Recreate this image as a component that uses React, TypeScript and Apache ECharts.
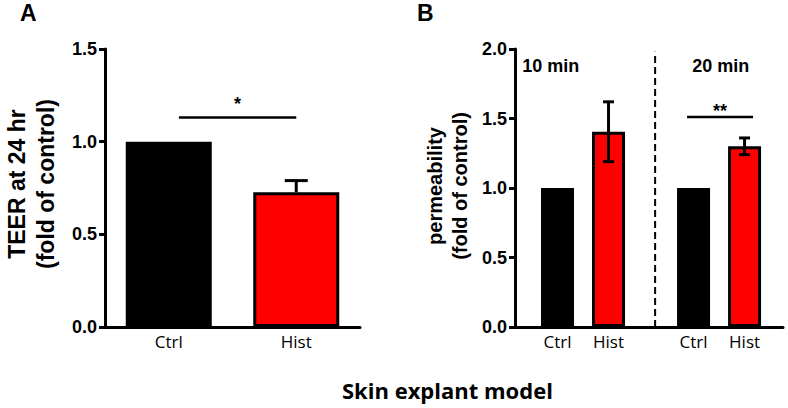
import React, { useEffect, useRef } from "react";
import * as echarts from "echarts";

// ---------- Panel A data ----------
const aCategories = ["Ctrl", "Hist"];
const aPositions = [0, 1];
const aValues = [1.0, 0.727];
const aErrHigh = [null, 0.79];
const aYTicks = [0, 0.5, 1.0, 1.5];
const aSig = [{ from: 0.08, to: 1.0, y: 1.13, label: "*", gap: 5 }];

// ---------- Panel B data ----------
const bCategories = ["Ctrl", "Hist", "Ctrl", "Hist"];
const bPositions = [2.5, 5.5, 10.5, 13.5];
const bValues = [1.0, 1.405, 1.0, 1.3];
const bErrLow = [null, 1.19, null, 1.24];
const bErrHigh = [null, 1.62, null, 1.36];
const bYTicks = [0, 0.5, 1.0, 1.5, 2.0];
const bGroups = ["10 min", "20 min"];
const bGroupPositions = [2.1, 12.1];
const bGroupY = 1.88;
const bDivider = [8.24, 0, 1.98];
const bSig = [{ from: 10.12, to: 14.0, y: 1.51, label: "**", gap: -3 }];

const colors = ["#000000", "#ff0000"];

const ARIAL = "'Liberation Sans', Arial, sans-serif";
const CALIBRI = "'Open Sans', 'Noto Sans', sans-serif";

function errorSeries(
  xAxisIndex: number,
  positions: number[],
  values: number[],
  low: (number | null)[],
  high: (number | null)[],
  capW: number,
  lowerCap: boolean
) {
  const data: number[][] = [];
  positions.forEach((p, i) => {
    if (high[i] != null) {
      const lo = low[i] != null ? (low[i] as number) : values[i];
      data.push([p, lo, high[i] as number]);
    }
  });
  return {
    type: "custom",
    xAxisIndex,
    yAxisIndex: xAxisIndex,
    z: 5,
    silent: true,
    data,
    renderItem: (params: any, api: any) => {
      const x = api.value(0);
      const lo = api.coord([x, api.value(1)]);
      const hi = api.coord([x, api.value(2)]);
      const hw = capW / 2;
      const st = { stroke: "#000", lineWidth: 3 };
      const children: any[] = [
        { type: "line", shape: { x1: lo[0], y1: lo[1], x2: hi[0], y2: hi[1] }, style: st },
        { type: "line", shape: { x1: hi[0] - hw, y1: hi[1], x2: hi[0] + hw, y2: hi[1] }, style: st },
      ];
      if (lowerCap) {
        children.push({
          type: "line",
          shape: { x1: lo[0] - hw, y1: lo[1], x2: lo[0] + hw, y2: lo[1] },
          style: st,
        });
      }
      return { type: "group", children };
    },
  };
}

function sigSeries(axisIndex: number, sig: typeof aSig) {
  return {
    type: "custom",
    xAxisIndex: axisIndex,
    yAxisIndex: axisIndex,
    z: 5,
    silent: true,
    data: sig.map((s) => [s.from, s.to, s.y]),
    renderItem: (params: any, api: any) => {
      const s = sig[params.dataIndex];
      const p1 = api.coord([api.value(0), api.value(2)]);
      const p2 = api.coord([api.value(1), api.value(2)]);
      return {
        type: "group",
        children: [
          {
            type: "line",
            shape: { x1: p1[0], y1: p1[1], x2: p2[0], y2: p2[1] },
            style: { stroke: "#000", lineWidth: 2.5 },
          },
          {
            type: "text",
            style: {
              text: s.label,
              x: (p1[0] + p2[0]) / 2,
              y: p1[1] - s.gap,
              fill: "#000",
              font: `bold 18px ${ARIAL}`,
              align: "center",
              verticalAlign: "bottom",
              textAlign: "center",
              textVerticalAlign: "bottom",
            },
          },
        ],
      };
    },
  };
}

export default function App() {
  const ref = useRef<HTMLDivElement>(null);
  useEffect(() => {
    document.body.style.margin = "0";
    const chart = echarts.init(ref.current!, null, { renderer: "svg" });

    const yAxisBase = (
      max: number,
      name: string,
      gap: number,
      nameSize: number,
      lh: number,
      idx: number,
      namePad: number[]
    ) => ({
      type: "value",
      gridIndex: idx,
      min: 0,
      max,
      interval: 0.5,
      name,
      nameLocation: "middle",
      nameRotate: 90,
      nameGap: gap,
      nameTextStyle: {
        fontFamily: ARIAL,
        fontWeight: "bold",
        fontSize: nameSize,
        lineHeight: lh,
        color: "#000",
        padding: namePad,
      },
      axisLine: { show: true, onZero: false, lineStyle: { color: "#000", width: 3 } },
      axisTick: { show: true, length: 6, lineStyle: { color: "#000", width: 3 } },
      splitLine: { show: false },
      axisLabel: {
        margin: 8,
        fontFamily: ARIAL,
        fontWeight: "bold",
        fontSize: 18,
        color: "#000",
        formatter: (v: number) => v.toFixed(1),
      },
    });

    const xAxisBase = (idx: number, min: number, max: number, positions: number[], names: string[]) => ({
      type: "value",
      gridIndex: idx,
      min,
      max,
      axisLine: { show: true, onZero: false, lineStyle: { color: "#000", width: 3 } },
      axisTick: { show: false },
      splitLine: { show: false },
      axisLabel: {
        customValues: positions,
        margin: 6,
        fontFamily: CALIBRI,
        fontSize: 17,
        color: "#000",
        formatter: (v: number) => {
          const i = positions.findIndex((p) => Math.abs(p - v) < 1e-6);
          return i >= 0 ? names[i] : "";
        },
      },
    });

    chart.setOption({
      animation: false,
      backgroundColor: "#fff",
      grid: [
        { left: 105, top: 49, width: 255, height: 278 },
        { left: 515, top: 49, width: 268, height: 278 },
      ],
      xAxis: [
        xAxisBase(0, -0.5, 1.5, aPositions, aCategories),
        xAxisBase(1, 0, 15.76, bPositions, bCategories),
      ],
      yAxis: [
        yAxisBase(aYTicks[aYTicks.length - 1], "TEER at 24 hr\n(fold of control)", 45, 23, 29, 0, [0, 0, 0, 8]),
        yAxisBase(bYTicks[bYTicks.length - 1], "permeability\n(fold of control)", 43, 20, 25, 1, [0, 0, 0, 4]),
      ],
      graphic: [
        {
          type: "text",
          left: 20,
          top: 1,
          style: { text: "A", font: `bold 23px ${ARIAL}`, fill: "#000" },
        },
        {
          type: "text",
          left: 417,
          top: 1,
          style: { text: "B", font: `bold 23px ${ARIAL}`, fill: "#000" },
        },
        {
          type: "text",
          left: 342,
          top: 379,
          style: { text: "Skin explant model", font: `bold 22px ${CALIBRI}`, fill: "#000" },
        },
      ],
      series: [
        {
          type: "bar",
          xAxisIndex: 0,
          yAxisIndex: 0,
          barWidth: 86,
          data: aPositions.map((p, i) => ({
            value: [p, aValues[i]],
            itemStyle: { color: colors[i], borderColor: "#000", borderWidth: 3 },
          })),
        },
        errorSeries(0, aPositions, aValues, aValues, aErrHigh, 23, false),
        sigSeries(0, aSig),
        {
          type: "bar",
          xAxisIndex: 1,
          yAxisIndex: 1,
          barWidth: 33,
          data: bPositions.map((p, i) => ({
            value: [p, bValues[i]],
            itemStyle: { color: colors[i % 2], borderColor: "#000", borderWidth: 3 },
          })),
        },
        errorSeries(1, bPositions, bValues, bErrLow, bErrHigh, 11, true),
        sigSeries(1, bSig),
        {
          type: "custom",
          xAxisIndex: 1,
          yAxisIndex: 1,
          silent: true,
          data: [bDivider],
          renderItem: (params: any, api: any) => {
            const p1 = api.coord([api.value(0), api.value(1)]);
            const p2 = api.coord([api.value(0), api.value(2)]);
            return {
              type: "line",
              shape: { x1: p1[0], y1: p1[1], x2: p2[0], y2: p2[1] },
              style: { stroke: "#000", lineWidth: 2, lineDash: [7, 4] },
            };
          },
        },
        {
          type: "custom",
          xAxisIndex: 1,
          yAxisIndex: 1,
          silent: true,
          data: bGroupPositions.map((p) => [p, bGroupY]),
          renderItem: (params: any, api: any) => {
            const p = api.coord([api.value(0), api.value(1)]);
            return {
              type: "text",
              style: {
                text: bGroups[params.dataIndex],
                x: p[0],
                y: p[1],
                fill: "#000",
                font: `bold 18px ${ARIAL}`,
                align: "center",
                verticalAlign: "middle",
                textAlign: "center",
                textVerticalAlign: "middle",
              },
            };
          },
        },
      ],
    });
    return () => chart.dispose();
  }, []);
  return <div ref={ref} style={{ width: 788, height: 408 }} />;
}
